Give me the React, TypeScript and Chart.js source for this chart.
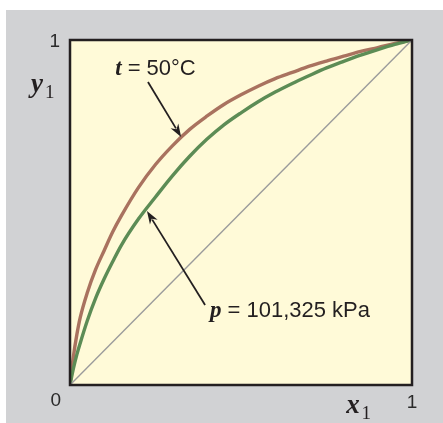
import { useEffect, useRef } from "react";
import { Chart, registerables } from "chart.js";

Chart.register(...registerables);

// liquid mole fraction x1
const xLiquid = [
  0, 0.01, 0.02, 0.03, 0.05, 0.075, 0.1, 0.125, 0.15, 0.2, 0.25, 0.3, 0.35, 0.4, 0.45, 0.5, 0.55, 0.6,
  0.65, 0.7, 0.75, 0.8, 0.85, 0.9, 0.95, 1.0,
];
// vapour mole fraction y1 at t = 50 °C
const yAt50C = [
  0, 0.083, 0.146, 0.196, 0.266, 0.335, 0.39, 0.444, 0.49, 0.572, 0.639, 0.694, 0.741, 0.779, 0.813,
  0.841, 0.866, 0.888, 0.906, 0.924, 0.939, 0.953, 0.967, 0.978, 0.99, 1.0,
];
// vapour mole fraction y1 at p = 101,325 kPa
const yAtP = [
  0, 0.048, 0.088, 0.122, 0.185, 0.252, 0.308, 0.358, 0.405, 0.481, 0.545, 0.607, 0.663, 0.712, 0.754,
  0.789, 0.821, 0.849, 0.874, 0.897, 0.919, 0.938, 0.956, 0.972, 0.987, 1.0,
];
// diagonal y1 = x1
const diagX = [0, 1];
const diagY = [0, 1];

const tickValues = [0, 1];
const tickLabels = ["0", "1"];

const label50C = { runs: ["t", " = 50°C"], x: 0.132, y: 0.899 };
const arrow50C = { fromX: 0.228, fromY: 0.878, toX: 0.325, toY: 0.719 };
const labelP = { runs: ["p", " = 101,325 kPa"], x: 0.409, y: 0.197 };
const arrowP = { fromX: 0.395, fromY: 0.232, toX: 0.225, toY: 0.504 };

const SERIF = '"Liberation Serif", "Times New Roman", serif';
const SANS = '"Liberation Sans", Arial, sans-serif';
const INK = "#231f20";

function toPoints(xs: number[], ys: number[]) {
  return xs.map((x, i) => ({ x, y: ys[i] }));
}

function drawRuns(
  ctx: CanvasRenderingContext2D,
  runs: { text: string; font: string }[],
  x: number,
  y: number
) {
  let cx = x;
  ctx.textBaseline = "alphabetic";
  ctx.textAlign = "left";
  for (const r of runs) {
    ctx.font = r.font;
    ctx.fillText(r.text, cx, y);
    cx += ctx.measureText(r.text).width;
  }
}

function drawArrow(ctx: CanvasRenderingContext2D, x1: number, y1: number, x2: number, y2: number) {
  const ang = Math.atan2(y2 - y1, x2 - x1);
  const headLen = 13;
  const headW = 4.5;
  const bx = x2 - headLen * Math.cos(ang);
  const by = y2 - headLen * Math.sin(ang);
  ctx.strokeStyle = INK;
  ctx.fillStyle = INK;
  ctx.lineWidth = 1.8;
  ctx.beginPath();
  ctx.moveTo(x1, y1);
  ctx.lineTo(bx + 3 * Math.cos(ang), by + 3 * Math.sin(ang));
  ctx.stroke();
  ctx.beginPath();
  ctx.moveTo(x2, y2);
  ctx.lineTo(bx + headW * Math.sin(ang), by - headW * Math.cos(ang));
  ctx.lineTo(bx + 4 * Math.cos(ang), by + 4 * Math.sin(ang));
  ctx.lineTo(bx - headW * Math.sin(ang), by + headW * Math.cos(ang));
  ctx.closePath();
  ctx.fill();
}

const decorPlugin = {
  id: "decor",
  beforeDraw(chart: any) {
    const { ctx, chartArea: a, width, height } = chart;
    ctx.save();
    ctx.fillStyle = "#d1d2d4";
    ctx.fillRect(0, 0, width, height);
    ctx.fillStyle = "#fffad8";
    ctx.fillRect(a.left, a.top, a.right - a.left, a.bottom - a.top);
    ctx.restore();
  },
  afterDatasetsDraw(chart: any) {
    const { ctx, chartArea: a } = chart;
    const xs = chart.scales.x;
    const ys = chart.scales.y;
    ctx.save();
    // frame
    ctx.strokeStyle = INK;
    ctx.lineWidth = 2.5;
    ctx.strokeRect(a.left, a.top, a.right - a.left, a.bottom - a.top);

    // tick labels
    ctx.fillStyle = "#2a2a2a";
    ctx.font = `19px ${SANS}`;
    ctx.textBaseline = "middle";
    ctx.textAlign = "right";
    // y = 1
    ctx.fillText(tickLabels[1], a.left - 10, ys.getPixelForValue(tickValues[1]) + 2);
    // origin 0
    ctx.fillText(tickLabels[0], a.left - 9, ys.getPixelForValue(tickValues[0]) + 16);
    // x = 1
    ctx.textAlign = "center";
    ctx.fillText(tickLabels[1], xs.getPixelForValue(tickValues[1]), a.bottom + 18);

    // axis titles
    ctx.fillStyle = INK;
    drawRuns(ctx, [{ text: "y", font: `bold italic 27px ${SERIF}` }], a.left - 39, a.top + 52);
    drawRuns(ctx, [{ text: "1", font: `19px ${SERIF}` }], a.left - 25, a.top + 58);
    drawRuns(
      ctx,
      [{ text: "x", font: `bold italic 27px ${SERIF}` }],
      xs.getPixelForValue(0.808),
      a.bottom + 28
    );
    drawRuns(ctx, [{ text: "1", font: `19px ${SERIF}` }], xs.getPixelForValue(0.852), a.bottom + 34);

    // annotations
    ctx.fillStyle = INK;
    drawRuns(
      ctx,
      [
        { text: label50C.runs[0], font: `bold italic 23px ${SERIF}` },
        { text: label50C.runs[1], font: `22px ${SANS}` },
      ],
      xs.getPixelForValue(label50C.x),
      ys.getPixelForValue(label50C.y)
    );
    drawRuns(
      ctx,
      [
        { text: labelP.runs[0], font: `bold italic 23px ${SERIF}` },
        { text: labelP.runs[1], font: `22px ${SANS}` },
      ],
      xs.getPixelForValue(labelP.x),
      ys.getPixelForValue(labelP.y)
    );
    drawArrow(
      ctx,
      xs.getPixelForValue(arrow50C.fromX),
      ys.getPixelForValue(arrow50C.fromY),
      xs.getPixelForValue(arrow50C.toX),
      ys.getPixelForValue(arrow50C.toY)
    );
    drawArrow(
      ctx,
      xs.getPixelForValue(arrowP.fromX),
      ys.getPixelForValue(arrowP.fromY),
      xs.getPixelForValue(arrowP.toX),
      ys.getPixelForValue(arrowP.toY)
    );
    ctx.restore();
  },
};

export default function App() {
  const ref = useRef<HTMLCanvasElement | null>(null);
  useEffect(() => {
    if (!ref.current) return;
    const chart = new Chart(ref.current, {
      type: "scatter",
      data: {
        datasets: [
          {
            label: "y1 = x1",
            data: toPoints(diagX, diagY),
            showLine: true,
            borderColor: "#9b9b9b",
            borderWidth: 1.4,
            pointRadius: 0,
          },
          {
            label: "p = 101,325 kPa",
            data: toPoints(xLiquid, yAtP),
            showLine: true,
            borderColor: "#5c8c55",
            borderWidth: 3.4,
            pointRadius: 0,
            cubicInterpolationMode: "monotone",
          },
          {
            label: "t = 50°C",
            data: toPoints(xLiquid, yAt50C),
            showLine: true,
            borderColor: "#a9725f",
            borderWidth: 3.4,
            pointRadius: 0,
            cubicInterpolationMode: "monotone",
          },
        ],
      },
      options: {
        animation: false,
        responsive: false,
        events: [],
        layout: { padding: { left: 64, top: 30, right: 31, bottom: 38 } },
        plugins: { legend: { display: false }, tooltip: { enabled: false } },
        scales: {
          x: { type: "linear", min: 0, max: 1, display: false },
          y: { type: "linear", min: 0, max: 1, display: false },
        },
      },
      plugins: [decorPlugin],
    });
    return () => chart.destroy();
  }, []);
  return (
    <div style={{ position: "absolute", left: 6, top: 10, width: 437, height: 413 }}>
      <canvas ref={ref} width={437} height={413} style={{ display: "block" }} />
    </div>
  );
}
